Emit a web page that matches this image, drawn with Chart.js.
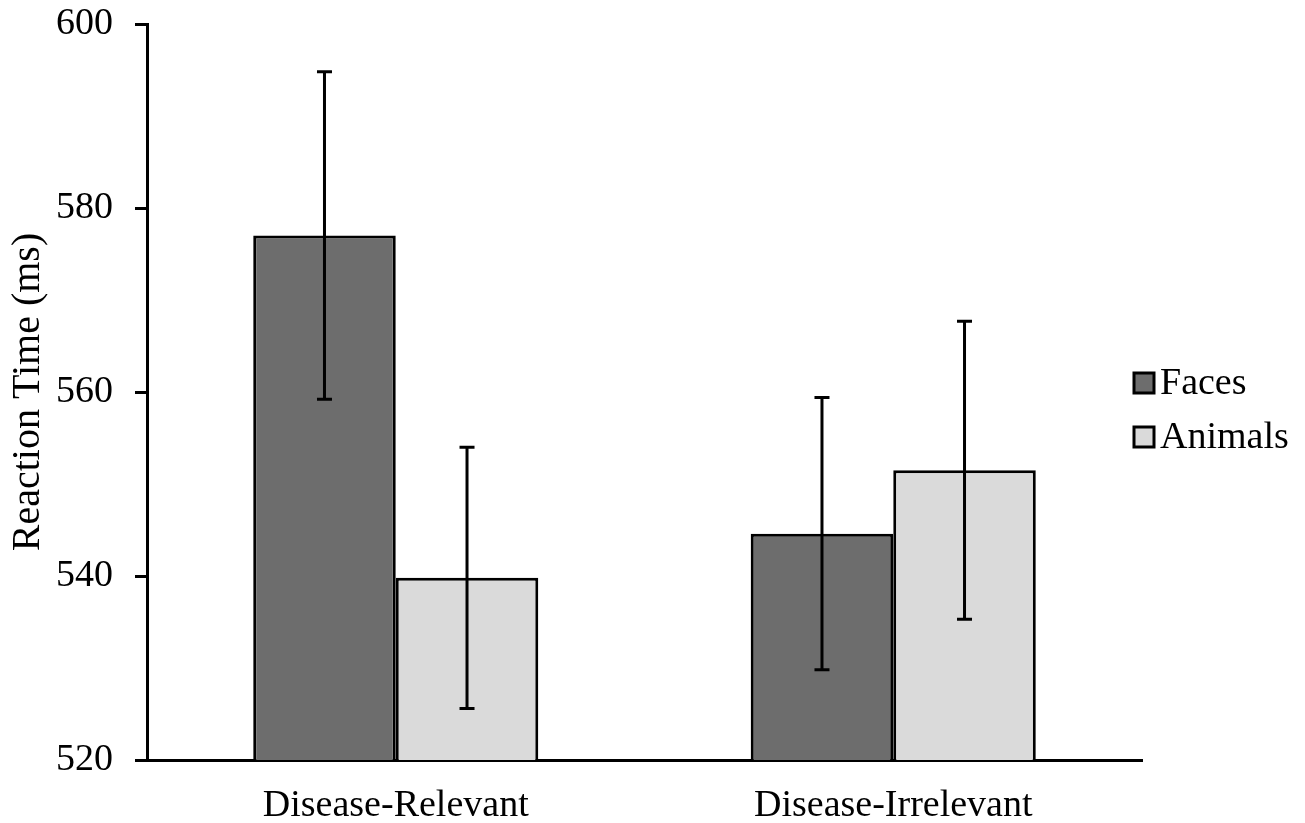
<!DOCTYPE html>
<html>
<head>
<meta charset="utf-8">
<script src="https://cdn.jsdelivr.net/npm/chart.js@4.4.1/dist/chart.umd.min.js"></script>
<style>
  html, body { margin: 0; padding: 0; background: #fff; }
  #wrap { width: 1305px; height: 823px; }
</style>
</head>
<body>
<div id="wrap"><canvas id="rtChart" width="1305" height="823"></canvas></div>
<script>
// Data
const categories = ['Disease-Relevant', 'Disease-Irrelevant'];
const facesMeans = [577.0, 544.6];
const facesErrors = [17.8, 14.8];
const animalsMeans = [539.8, 551.5];
const animalsErrors = [14.2, 16.2];
const yTicks = [520, 540, 560, 580, 600];

const serif = '"Liberation Serif", "Times New Roman", serif';

// Error bars drawn over each bar
const errorBarPlugin = {
  id: 'errorBars',
  afterDatasetsDraw(chart) {
    const ctx = chart.ctx;
    const y = chart.scales.y;
    chart.data.datasets.forEach((ds, di) => {
      const meta = chart.getDatasetMeta(di);
      meta.data.forEach((bar, i) => {
        const v = ds.data[i];
        const e = ds.errors[i];
        const top = y.getPixelForValue(v + e);
        const bottom = y.getPixelForValue(v - e);
        const cap = 7.5;
        ctx.save();
        ctx.strokeStyle = '#000';
        ctx.lineWidth = 3;
        ctx.beginPath();
        ctx.moveTo(bar.x, top);
        ctx.lineTo(bar.x, bottom);
        ctx.moveTo(bar.x - cap, top);
        ctx.lineTo(bar.x + cap, top);
        ctx.moveTo(bar.x - cap, bottom);
        ctx.lineTo(bar.x + cap, bottom);
        ctx.stroke();
        ctx.restore();
      });
    });
  }
};

// Legend on the right, next to the plot
const sideLegendPlugin = {
  id: 'sideLegend',
  afterDraw(chart) {
    const ctx = chart.ctx;
    const rows = [383, 437];
    ctx.save();
    ctx.font = '38px ' + serif;
    ctx.textBaseline = 'middle';
    ctx.textAlign = 'left';
    chart.data.datasets.forEach((ds, i) => {
      const cy = rows[i];
      ctx.fillStyle = ds.backgroundColor;
      ctx.fillRect(1134, cy - 10, 20, 20);
      ctx.strokeStyle = '#000';
      ctx.lineWidth = 3;
      ctx.strokeRect(1134, cy - 10, 20, 20);
      ctx.fillStyle = '#000';
      ctx.fillText(ds.label, 1160, cy + 1);
    });
    ctx.restore();
  }
};

new Chart(document.getElementById('rtChart'), {
  type: 'bar',
  data: {
    labels: categories,
    datasets: [{
      label: 'Faces',
      data: facesMeans,
      errors: facesErrors,
      backgroundColor: '#6d6d6d',
      borderColor: '#000',
      borderWidth: 3,
      borderSkipped: false
    }, {
      label: 'Animals',
      data: animalsMeans,
      errors: animalsErrors,
      backgroundColor: '#dadada',
      borderColor: '#000',
      borderWidth: 3,
      borderSkipped: false
    }]
  },
  options: {
    responsive: false,
    animation: false,
    devicePixelRatio: 1,
    layout: { padding: { top: 24, right: 163, left: 4, bottom: 0 } },
    datasets: { bar: { barPercentage: 1, categoryPercentage: 0.573 } },
    plugins: {
      legend: { display: false },
      tooltip: { enabled: false }
    },
    scales: {
      x: {
        afterFit(scale) { scale.height = 63; },
        grid: { display: false },
        border: { display: true, color: '#000', width: 3 },
        ticks: { color: '#000', font: { family: serif, size: 38 }, padding: 15 }
      },
      y: {
        min: 520,
        max: 600,
        afterFit(scale) {
          scale.width = 143;
          scale.paddingTop = 0;
          scale.paddingBottom = 0;
        },
        afterBuildTicks(scale) { scale.ticks = yTicks.map(v => ({ value: v })); },
        grid: { display: true, drawOnChartArea: false, drawTicks: true, tickLength: 12, color: '#000', lineWidth: 3 },
        border: { display: true, color: '#000', width: 3 },
        ticks: { color: '#000', font: { family: serif, size: 38 }, padding: 22 },
        title: { display: true, text: 'Reaction Time (ms)', color: '#000', font: { family: serif, size: 40 }, padding: { top: 0, bottom: 0 } }
      }
    }
  },
  plugins: [errorBarPlugin, sideLegendPlugin]
});
</script>
</body>
</html>
